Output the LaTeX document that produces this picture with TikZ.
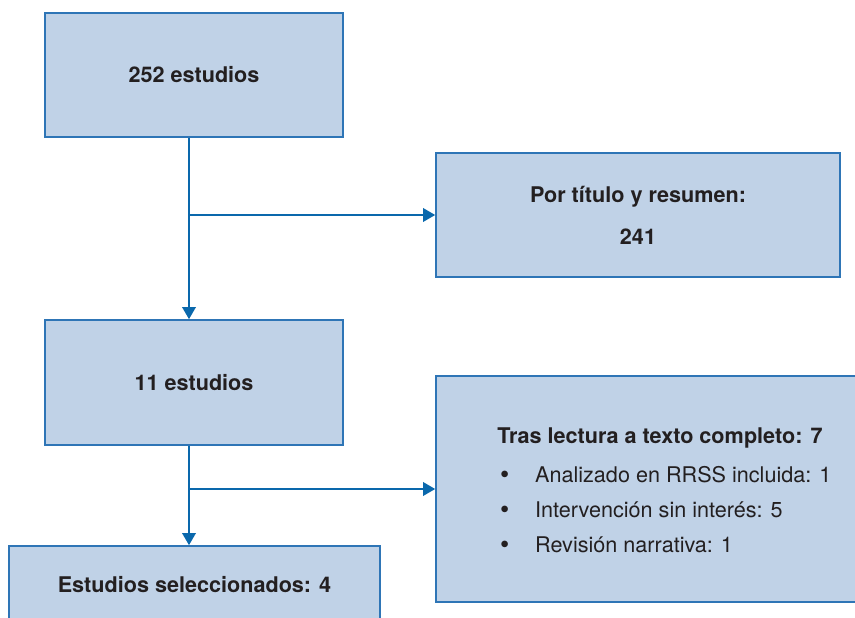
\documentclass[tikz,border=0pt]{standalone}
\usepackage{fontspec}
\setmainfont{TeX Gyre Heros}
\usetikzlibrary{arrows.meta}
\definecolor{boxfill}{RGB}{192,210,231}
\definecolor{boxline}{RGB}{46,117,182}
\definecolor{flowblue}{RGB}{10,104,172}
\definecolor{txtgray}{RGB}{35,31,32}
\newcommand{\flowbullet}{\makebox[21.5pt][l]{\hspace{1.6pt}\raisebox{-0.4pt}{\fontsize{15}{15}\selectfont\textbullet}}}
\tikzset{
    flowbox/.style={draw=boxline, fill=boxfill, line width=0.8pt, inner sep=0pt,
        text=txtgray, font=\fontsize{12.3}{14}\selectfont},
    flowline/.style={draw=flowblue, line width=1.7pt},
    flowarrow/.style={flowline, -{Triangle[length=7pt,width=7.5pt]}},
}

\begin{document}
\begin{tikzpicture}[x=0.02cm,y=-0.02cm]
\useasboundingbox (0,0) rectangle (855,618);
\clip (0,0) rectangle (855,618);

\node[flowbox, minimum width=5.96cm, minimum height=2.48cm] (total) at (194,75) {\bfseries 252 estudios};
\node[flowbox, minimum width=8.08cm, minimum height=2.48cm, align=center] (titleexcl) at (638,215)
    {\bfseries Por título y resumen:\\[10pt]\bfseries 241};
\node[flowbox, minimum width=5.96cm, minimum height=2.5cm] (screened) at (194,382.5) {\bfseries 11 estudios};
\node[flowbox, minimum width=7.42cm, minimum height=1.56cm] (selected) at (194.5,585) {\bfseries Estudios seleccionados: 4};
\node[flowbox, minimum width=8.68cm, minimum height=4.52cm] (textexcl) at (653,489) {};
\node[anchor=north west, inner sep=0pt, align=left, text=txtgray, font=\fontsize{12.3}{19.8}\selectfont] (textreasons) at (497,427)
    {{\bfseries Tras lectura a texto completo: 7}\\[2.9pt]
     \flowbullet Analizado en RRSS incluida: 1\\
     \flowbullet Intervención sin interés: 5\\
     \flowbullet Revisión narrativa: 1};

\coordinate (split1) at (189,215);
\coordinate (split2) at (189,489);
\draw[flowarrow] (total.south -| split1) -- (screened.north -| split1);
\draw[flowarrow] (split1) -- (titleexcl.west);
\draw[flowarrow] (screened.south -| split2) -- (selected.north -| split2);
\draw[flowarrow] (split2) -- (textexcl.west);
\end{tikzpicture}
\end{document}
